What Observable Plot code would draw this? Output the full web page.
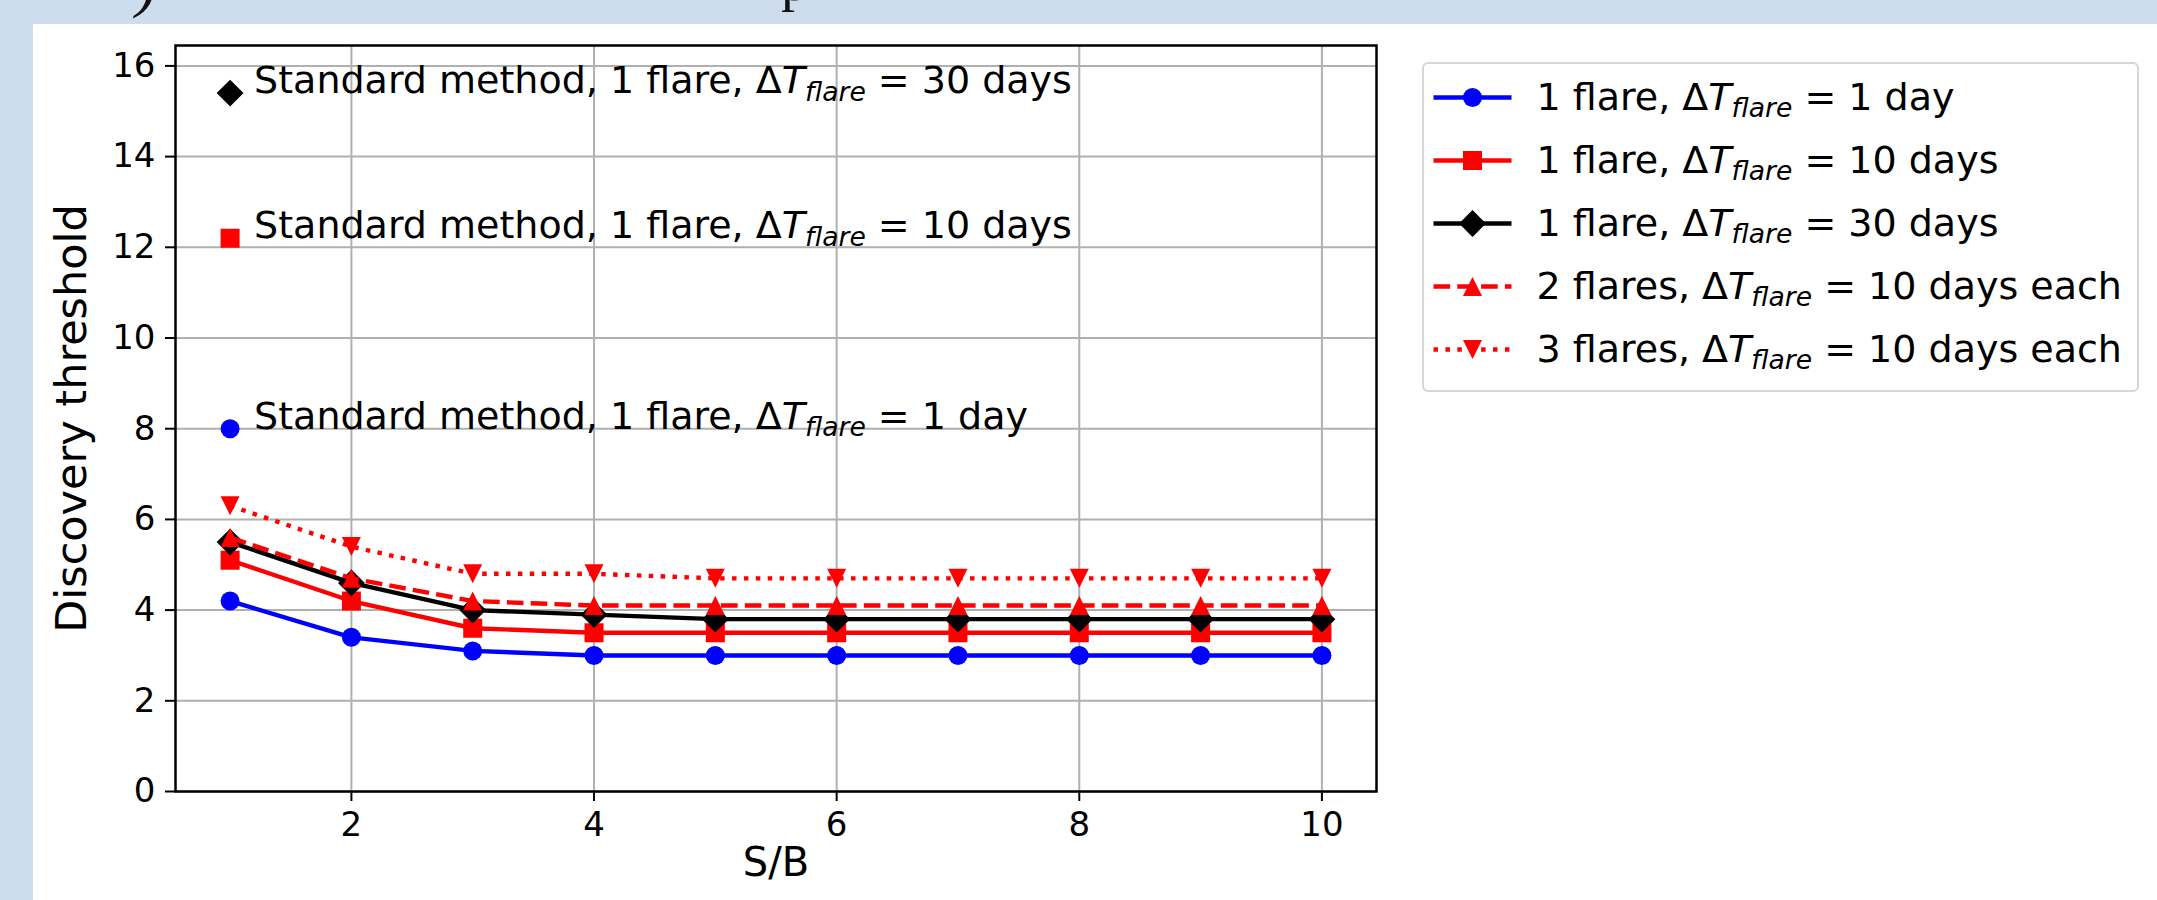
<!DOCTYPE html>
<html><head><meta charset="utf-8">
<script src="https://cdn.jsdelivr.net/npm/d3@7"></script>
<script src="https://cdn.jsdelivr.net/npm/@observablehq/plot@0.6"></script>
<style>
html,body{margin:0;padding:0}
body{width:2157px;height:900px;overflow:hidden;position:relative;background:#cedded;font-family:"DejaVu Sans",sans-serif}
#panel{position:absolute;left:33px;top:24px;right:0;bottom:0;background:#fff}
.frag{position:absolute;font-family:"Liberation Serif","DejaVu Serif",serif;line-height:1;color:#111;white-space:pre}
#chart{position:absolute;left:0;top:0}
#legend{position:absolute;left:1422px;top:62px;width:713px;height:326px;border:2px solid #d6d6d6;border-radius:6px;background:#fff}
#chart svg g[aria-label^="x-axis"] text, #chart svg g[aria-label^="y-axis"] text{font-size:34px;fill:#000}
#chart svg g[aria-label^="x-axis"] path, #chart svg g[aria-label^="y-axis"] path,
#chart svg g[aria-label^="x-axis"] line, #chart svg g[aria-label^="y-axis"] line{stroke-width:2;stroke:#000}
</style></head><body>
<div id="panel"></div>
<div class="frag" style="left:136px;top:-48px;font-size:64px;font-style:italic">)</div>
<div class="frag" style="left:781px;top:-47px;font-size:56px">p</div>
<div id="chart"></div>
<div id="legend"></div>
<script>
// ---- data ----
const sbValues = [1, 2, 3, 4, 5, 6, 7, 8, 9, 10];
const seriesLabels = [
  "1 flare, ΔT_flare = 1 day",
  "1 flare, ΔT_flare = 10 days",
  "1 flare, ΔT_flare = 30 days",
  "2 flares, ΔT_flare = 10 days each",
  "3 flares, ΔT_flare = 10 days each"
];
const oneFlare1Day   = [4.2, 3.4, 3.1, 3.0, 3.0, 3.0, 3.0, 3.0, 3.0, 3.0];
const oneFlare10Days = [5.1, 4.2, 3.6, 3.5, 3.5, 3.5, 3.5, 3.5, 3.5, 3.5];
const oneFlare30Days = [5.5, 4.6, 4.0, 3.9, 3.8, 3.8, 3.8, 3.8, 3.8, 3.8];
const twoFlares10Days   = [5.6, 4.7, 4.2, 4.1, 4.1, 4.1, 4.1, 4.1, 4.1, 4.1];
const threeFlares10Days = [6.3, 5.4, 4.8, 4.8, 4.7, 4.7, 4.7, 4.7, 4.7, 4.7];
const seriesValues = [oneFlare1Day, oneFlare10Days, oneFlare30Days, twoFlares10Days, threeFlares10Days];
const seriesColors = ["#0000ff", "#ff0000", "#000000", "#ff0000", "#ff0000"];
const seriesDash = [null, null, null, "16.6 7.2", "4.5 7.4"];
const seriesMarkers = ["o", "s", "D", "^", "v"];

const standardSB = 1;
const standardValues = [8.0, 12.2, 15.4];
const standardLabels = [
  "Standard method, 1 flare, ΔT_flare = 1 day",
  "Standard method, 1 flare, ΔT_flare = 10 days",
  "Standard method, 1 flare, ΔT_flare = 30 days"
];
const standardColors = ["#0000ff", "#ff0000", "#000000"];
const standardMarkers = ["o", "s", "D"];

const xTicks = [2, 4, 6, 8, 10];
const yTicks = [0, 2, 4, 6, 8, 10, 12, 14, 16];
const xLabel = "S/B";
const yLabel = "Discovery threshold";

// ---- matplotlib-like marker symbols ----
function mplSymbol(kind) {
  return {
    draw(ctx, size) {
      const r = Math.sqrt(size / Math.PI);
      if (kind === "o") { ctx.moveTo(r, 0); ctx.arc(0, 0, r, 0, 2 * Math.PI); }
      else if (kind === "s") { ctx.moveTo(-r, -r); ctx.lineTo(r, -r); ctx.lineTo(r, r); ctx.lineTo(-r, r); ctx.closePath(); }
      else if (kind === "D") { const d = r * Math.SQRT2; ctx.moveTo(0, -d); ctx.lineTo(d, 0); ctx.lineTo(0, d); ctx.lineTo(-d, 0); ctx.closePath(); }
      else if (kind === "^") { ctx.moveTo(0, -r); ctx.lineTo(r, r); ctx.lineTo(-r, r); ctx.closePath(); }
      else if (kind === "v") { ctx.moveTo(0, r); ctx.lineTo(r, -r); ctx.lineTo(-r, -r); ctx.closePath(); }
    }
  };
}

const LW = 4.4, MR = 9.5;

// ---- main chart ----
const marks = [
  Plot.ruleX(xTicks, {stroke: "#b0b0b0", strokeWidth: 2}),
  Plot.ruleY(yTicks, {stroke: "#b0b0b0", strokeWidth: 2})
];
seriesValues.forEach((vals, i) => {
  const rows = sbValues.map((x, j) => ({x, y: vals[j]}));
  const lineOpts = {x: "x", y: "y", stroke: seriesColors[i], strokeWidth: LW, strokeLinejoin: "round"};
  if (seriesDash[i]) { lineOpts.strokeDasharray = seriesDash[i]; lineOpts.strokeLinecap = "butt"; }
  marks.push(Plot.line(rows, lineOpts));
  marks.push(Plot.dot(rows, {x: "x", y: "y", symbol: mplSymbol(seriesMarkers[i]), r: MR, fill: seriesColors[i], stroke: "none"}));
});
standardValues.forEach((v, i) => {
  marks.push(Plot.dot([{x: standardSB, y: v}], {x: "x", y: "y", symbol: mplSymbol(standardMarkers[i]), r: MR, fill: standardColors[i], stroke: "none"}));
});
marks.push(Plot.text(standardValues.map((v, i) => ({x: standardSB, y: v, label: standardLabels[i]})),
  {x: "x", y: "y", text: "label", textAnchor: "start", lineAnchor: "bottom", dx: 24, fontSize: 38, fill: "#000"}));
marks.push(Plot.frame({stroke: "#000", strokeWidth: 2.5}));
marks.push(Plot.text([xLabel], {text: d => d, frameAnchor: "bottom", textAnchor: "middle", dy: 84, fontSize: 40, fill: "#000"}));
marks.push(Plot.text([yLabel], {text: d => d, frameAnchor: "left", textAnchor: "middle", lineAnchor: "middle", dx: -103, rotate: -90, fontSize: 43, fill: "#000"}));

const chart = Plot.plot({
  width: 2157, height: 900,
  marginLeft: 175, marginRight: 781, marginTop: 45, marginBottom: 109,
  x: {domain: [0.55, 10.45], ticks: xTicks, tickSize: 10, tickPadding: 10, label: null},
  y: {domain: [0, 16.45], ticks: yTicks, tickSize: 10, tickPadding: 10, label: null},
  style: {background: "transparent", fontFamily: "DejaVu Sans", fontSize: "34px", color: "#000", overflow: "visible"},
  marks
});
document.getElementById("chart").appendChild(chart);

// ---- legend ----
const legMarks = [];
seriesLabels.forEach((label, i) => {
  const o = {x1: () => 9, x2: () => 87, y1: d => d, y2: d => d, stroke: seriesColors[i], strokeWidth: LW};
  if (seriesDash[i]) { o.strokeDasharray = seriesDash[i]; o.strokeLinecap = "butt"; }
  legMarks.push(Plot.link([label], o));
  legMarks.push(Plot.dot([label], {x: () => 48, y: d => d, symbol: mplSymbol(seriesMarkers[i]), r: MR, fill: seriesColors[i], stroke: "none"}));
});
legMarks.push(Plot.text(seriesLabels, {x: () => 112, y: d => d, text: d => d, textAnchor: "start", lineAnchor: "middle", fontSize: 38, fill: "#000"}));
const legend = Plot.plot({
  width: 713, height: 326, marginLeft: 0, marginRight: 0, marginTop: 0, marginBottom: 0,
  x: {domain: [0, 713], range: [0, 713], axis: null},
  y: {type: "point", domain: seriesLabels, range: [31.7, 285.3], padding: 0, axis: null},
  style: {background: "transparent", fontFamily: "DejaVu Sans", fontSize: "38px", color: "#000", overflow: "visible"},
  marks: legMarks
});
document.getElementById("legend").appendChild(legend);

// ---- mathtext-like formatting of ΔT_flare ----
function formatMath(svg) {
  const NS = "http://www.w3.org/2000/svg";
  svg.querySelectorAll("text").forEach(t => {
    const s = t.textContent;
    if (!s.includes("ΔT_flare")) return;
    const fs = parseFloat(getComputedStyle(t).fontSize) || 38;
    const [before, after] = s.split("ΔT_flare");
    while (t.firstChild) t.removeChild(t.firstChild);
    const add = (txt, attrs) => {
      const ts = document.createElementNS(NS, "tspan");
      for (const k in attrs) ts.setAttribute(k, attrs[k]);
      ts.textContent = txt;
      t.appendChild(ts);
    };
    const shift = (0.2 * fs).toFixed(1);
    add(before + "Δ", {});
    add("T", {"font-style": "italic"});
    add("flare", {"font-style": "italic", "font-size": (0.7 * fs).toFixed(1) + "px", dy: shift});
    add(after, {dy: "-" + shift});
  });
}
formatMath(chart);
formatMath(legend);
</script>
</body></html>
